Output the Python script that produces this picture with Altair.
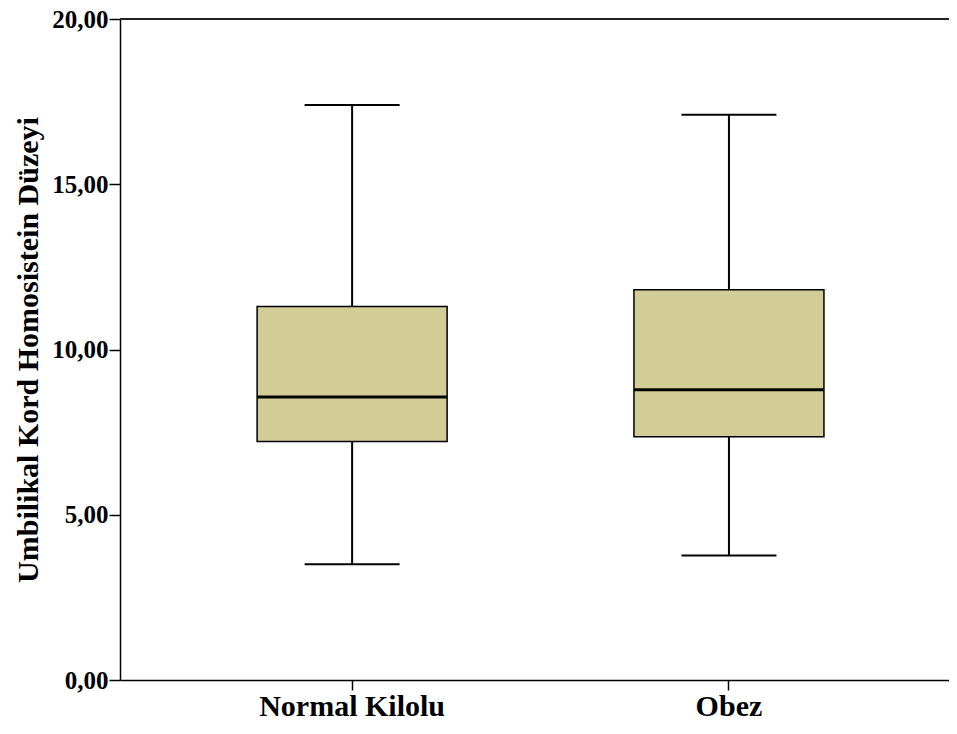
import altair as alt
import pandas as pd

groups = ["Normal Kilolu", "Obez"]
mins = [3.50, 3.77]
q1s = [7.22, 7.36]
medians = [8.56, 8.78]
q3s = [11.30, 11.81]
maxs = [17.40, 17.10]

df = pd.DataFrame({"grp": groups, "lo": mins, "q1": q1s, "med": medians, "q3": q3s, "hi": maxs})

FONT = "Liberation Serif"
FILL = "#d2cd97"

x = alt.X("grp:N", sort=groups, title=None,
          scale=alt.Scale(paddingOuter=0.1, paddingInner=0, align=0.58),
          axis=alt.Axis(labelAngle=0, labelFont=FONT, labelFontSize=30, labelFontWeight="bold",
                        labelColor="black", labelPadding=1, labelLimit=500, tickSize=10,
                        tickColor="black", tickWidth=1.5, domainColor="black", domainWidth=1.5))
yscale = alt.Scale(domain=[0, 20], nice=False, zero=True)
yaxis = alt.Axis(values=[0, 5, 10, 15, 20], grid=False,
                 labelExpr="replace(format(datum.value, '.2f'), '.', ',')",
                 labelFont=FONT, labelFontSize=25, labelFontWeight="bold", labelColor="black",
                 labelPadding=1, tickSize=11, tickColor="black", tickWidth=1.5,
                 domainColor="black", domainWidth=1.5,
                 title="Umbilikal Kord Homosistein Düzeyi", titleFont=FONT, titleFontSize=30,
                 titleFontWeight="bold", titleColor="black", titlePadding=8)

base = alt.Chart(df)

whisk_lo = base.mark_rule(color="black", strokeWidth=2, opacity=1).encode(
    x=x, y=alt.Y("lo:Q", scale=yscale, axis=yaxis), y2="q1:Q")
whisk_hi = base.mark_rule(color="black", strokeWidth=2, opacity=1).encode(
    x=x, y=alt.Y("q3:Q"), y2="hi:Q")
cap_lo = base.mark_tick(color="black", size=95, thickness=2, opacity=1).encode(x=x, y="lo:Q")
cap_hi = base.mark_tick(color="black", size=95, thickness=2, opacity=1).encode(x=x, y="hi:Q")
box = base.mark_bar(size=190, fill=FILL, stroke="black", strokeWidth=1.5, opacity=1).encode(
    x=x, y="q1:Q", y2="q3:Q")
med = base.mark_tick(color="black", size=190, thickness=3, opacity=1).encode(x=x, y="med:Q")
top = alt.Chart(pd.DataFrame({"v": [20]})).mark_rule(color="#222222", strokeWidth=2).encode(
    y=alt.Y("v:Q"))

chart = alt.layer(whisk_lo, whisk_hi, cap_lo, cap_hi, box, med, top).properties(
    width=829, height=661,
    autosize=alt.AutoSizeParams(type="none"),
    padding={"left": 112, "top": 11, "right": 0, "bottom": 41},
).configure_view(stroke=None).configure(background="white")

chart.save("out.html", embed_options={"renderer": "svg", "actions": False})
